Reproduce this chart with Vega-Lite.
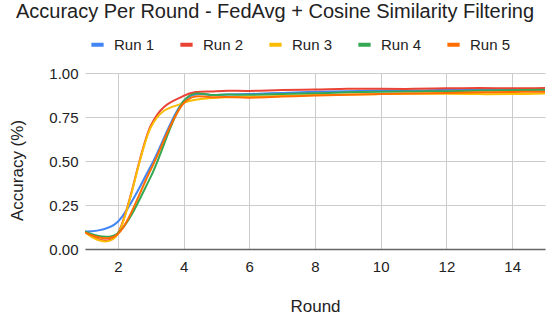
{
  "$schema": "https://vega.github.io/schema/vega-lite/v6.json",
  "width": 460,
  "height": 176,
  "autosize": {"type": "none"},
  "padding": {"left": 85, "top": 73, "right": 5, "bottom": 72},
  "background": "white",
  "title": {
    "text": "Accuracy Per Round - FedAvg + Cosine Similarity Filtering",
    "font": "Liberation Sans",
    "fontSize": 20,
    "fontWeight": "normal",
    "color": "#222222",
    "anchor": "middle",
    "frame": "group",
    "dx": -40,
    "offset": 14
  },
  "data": {
    "values": [
      {"round": 1, "run": "Run 1", "acc": 0.10},
      {"round": 2, "run": "Run 1", "acc": 0.155},
      {"round": 3, "run": "Run 1", "acc": 0.47},
      {"round": 4, "run": "Run 1", "acc": 0.84},
      {"round": 5, "run": "Run 1", "acc": 0.875},
      {"round": 6, "run": "Run 1", "acc": 0.88},
      {"round": 7, "run": "Run 1", "acc": 0.887},
      {"round": 8, "run": "Run 1", "acc": 0.893},
      {"round": 9, "run": "Run 1", "acc": 0.897},
      {"round": 10, "run": "Run 1", "acc": 0.90},
      {"round": 11, "run": "Run 1", "acc": 0.90},
      {"round": 12, "run": "Run 1", "acc": 0.905},
      {"round": 13, "run": "Run 1", "acc": 0.905},
      {"round": 14, "run": "Run 1", "acc": 0.903},
      {"round": 15, "run": "Run 1", "acc": 0.905},
      {"round": 1, "run": "Run 2", "acc": 0.10},
      {"round": 2, "run": "Run 2", "acc": 0.09},
      {"round": 3, "run": "Run 2", "acc": 0.70},
      {"round": 4, "run": "Run 2", "acc": 0.87},
      {"round": 5, "run": "Run 2", "acc": 0.897},
      {"round": 6, "run": "Run 2", "acc": 0.898},
      {"round": 7, "run": "Run 2", "acc": 0.903},
      {"round": 8, "run": "Run 2", "acc": 0.906},
      {"round": 9, "run": "Run 2", "acc": 0.91},
      {"round": 10, "run": "Run 2", "acc": 0.91},
      {"round": 11, "run": "Run 2", "acc": 0.91},
      {"round": 12, "run": "Run 2", "acc": 0.913},
      {"round": 13, "run": "Run 2", "acc": 0.915},
      {"round": 14, "run": "Run 2", "acc": 0.913},
      {"round": 15, "run": "Run 2", "acc": 0.915},
      {"round": 1, "run": "Run 3", "acc": 0.095},
      {"round": 2, "run": "Run 3", "acc": 0.085},
      {"round": 3, "run": "Run 3", "acc": 0.69},
      {"round": 4, "run": "Run 3", "acc": 0.83},
      {"round": 5, "run": "Run 3", "acc": 0.86},
      {"round": 6, "run": "Run 3", "acc": 0.865},
      {"round": 7, "run": "Run 3", "acc": 0.87},
      {"round": 8, "run": "Run 3", "acc": 0.875},
      {"round": 9, "run": "Run 3", "acc": 0.878},
      {"round": 10, "run": "Run 3", "acc": 0.88},
      {"round": 11, "run": "Run 3", "acc": 0.882},
      {"round": 12, "run": "Run 3", "acc": 0.882},
      {"round": 13, "run": "Run 3", "acc": 0.88},
      {"round": 14, "run": "Run 3", "acc": 0.88},
      {"round": 15, "run": "Run 3", "acc": 0.883},
      {"round": 1, "run": "Run 4", "acc": 0.10},
      {"round": 2, "run": "Run 4", "acc": 0.09},
      {"round": 3, "run": "Run 4", "acc": 0.41},
      {"round": 4, "run": "Run 4", "acc": 0.84},
      {"round": 5, "run": "Run 4", "acc": 0.875},
      {"round": 6, "run": "Run 4", "acc": 0.876},
      {"round": 7, "run": "Run 4", "acc": 0.88},
      {"round": 8, "run": "Run 4", "acc": 0.885},
      {"round": 9, "run": "Run 4", "acc": 0.89},
      {"round": 10, "run": "Run 4", "acc": 0.893},
      {"round": 11, "run": "Run 4", "acc": 0.895},
      {"round": 12, "run": "Run 4", "acc": 0.897},
      {"round": 13, "run": "Run 4", "acc": 0.90},
      {"round": 14, "run": "Run 4", "acc": 0.902},
      {"round": 15, "run": "Run 4", "acc": 0.905},
      {"round": 1, "run": "Run 5", "acc": 0.095},
      {"round": 2, "run": "Run 5", "acc": 0.085},
      {"round": 3, "run": "Run 5", "acc": 0.45},
      {"round": 4, "run": "Run 5", "acc": 0.828},
      {"round": 5, "run": "Run 5", "acc": 0.862},
      {"round": 6, "run": "Run 5", "acc": 0.86},
      {"round": 7, "run": "Run 5", "acc": 0.866},
      {"round": 8, "run": "Run 5", "acc": 0.872},
      {"round": 9, "run": "Run 5", "acc": 0.877},
      {"round": 10, "run": "Run 5", "acc": 0.881},
      {"round": 11, "run": "Run 5", "acc": 0.884},
      {"round": 12, "run": "Run 5", "acc": 0.887},
      {"round": 13, "run": "Run 5", "acc": 0.89},
      {"round": 14, "run": "Run 5", "acc": 0.892},
      {"round": 15, "run": "Run 5", "acc": 0.894}
    ]
  },
  "mark": {"type": "line", "interpolate": "cardinal", "strokeWidth": 2, "clip": true},
  "encoding": {
    "x": {
      "field": "round",
      "type": "quantitative",
      "scale": {"domain": [1, 15], "nice": false, "zero": false},
      "axis": {
        "title": "Round",
        "values": [2, 4, 6, 8, 10, 12, 14],
        "format": "d",
        "grid": true,
        "gridColor": "#cccccc",
        "ticks": false,
        "domain": true,
        "domainColor": "#666666",
        "domainWidth": 1.5,
        "labelFont": "Liberation Sans",
        "labelFontSize": 15,
        "labelColor": "#222222",
        "labelPadding": 10,
        "titleFont": "Liberation Sans",
        "titleFontSize": 17,
        "titleFontWeight": "normal",
        "titleColor": "#222222",
        "titlePadding": 24
      }
    },
    "y": {
      "field": "acc",
      "type": "quantitative",
      "scale": {"domain": [0, 1], "nice": false},
      "axis": {
        "title": "Accuracy (%)",
        "values": [0, 0.25, 0.5, 0.75, 1],
        "format": ".2f",
        "grid": true,
        "gridColor": "#cccccc",
        "ticks": false,
        "domain": false,
        "labelFont": "Liberation Sans",
        "labelFontSize": 15,
        "labelColor": "#222222",
        "labelPadding": 7,
        "titleFont": "Liberation Sans",
        "titleFontSize": 17,
        "titleFontWeight": "normal",
        "titleColor": "#222222",
        "titlePadding": 22,
        "titleY": 97
      }
    },
    "color": {
      "field": "run",
      "type": "nominal",
      "scale": {
        "domain": ["Run 1", "Run 2", "Run 3", "Run 4", "Run 5"],
        "range": ["#4285F4", "#EA4335", "#FBBC04", "#34A853", "#FF6D01"]
      },
      "legend": {
        "title": null,
        "orient": "none",
        "direction": "horizontal",
        "legendX": 4,
        "legendY": -37,
        "symbolType": "stroke",
        "symbolStrokeWidth": 4,
        "symbolSize": 150,
        "labelFont": "Liberation Sans",
        "labelFontSize": 15,
        "labelColor": "#222222",
        "labelOffset": 8,
        "columnPadding": 17
      }
    }
  },
  "config": {"view": {"stroke": null}}
}
